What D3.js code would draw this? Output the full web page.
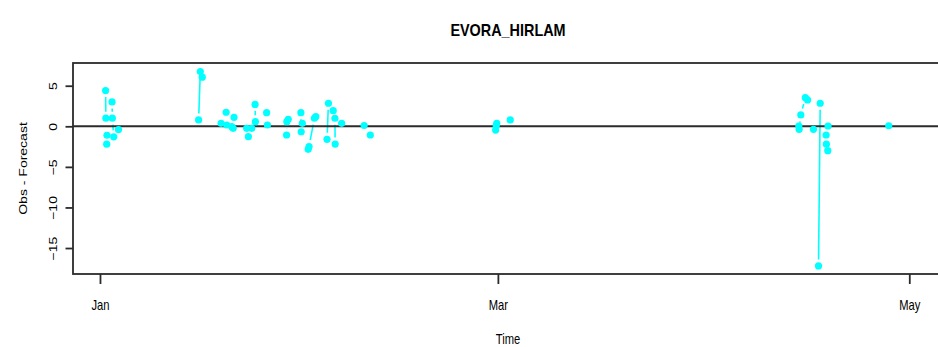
<!DOCTYPE html>
<html>
<head>
<meta charset="utf-8">
<script src="https://cdn.jsdelivr.net/npm/d3@7"></script>
<style>
  html, body { margin: 0; padding: 0; background: #fff; }
  svg { display: block; }
  text { font-family: "Liberation Sans", Arial, sans-serif; fill: #000; }
</style>
</head>
<body>
<svg id="chart" width="938" height="347"></svg>
<script>
// Observation time stamps (UTC); null entries break the connecting line.
const obsTimes = [
  "2013-01-01 20:00", "2013-01-01 21:00", null,
  "2013-01-02 00:00", null,
  "2013-01-02 01:00", null,
  "2013-01-02 19:00", "2013-01-02 20:00", "2013-01-03 01:00", null,
  "2013-01-03 18:00", null,
  "2013-01-15 15:00", "2013-01-15 21:00", "2013-01-16 04:00", null,
  "2013-01-18 23:00", null,
  "2013-01-19 17:00", "2013-01-19 19:00", null,
  "2013-01-20 13:00", "2013-01-20 18:00", "2013-01-20 21:00", null,
  "2013-01-22 18:00", "2013-01-23 00:00", null,
  "2013-01-23 12:00", null,
  "2013-01-24 00:00", "2013-01-24 01:00", null,
  "2013-01-25 17:00", "2013-01-25 20:00", null,
  "2013-01-28 16:00", "2013-01-28 17:00", "2013-01-28 22:00", null,
  "2013-01-30 19:00", "2013-01-30 20:00", "2013-01-31 00:00", null,
  "2013-01-31 21:00", "2013-02-01 00:00", "2013-02-01 19:00", "2013-02-02 00:00", null,
  "2013-02-03 16:00", "2013-02-03 21:00", null,
  "2013-02-04 14:00", "2013-02-04 20:00", "2013-02-04 21:00", null,
  "2013-02-05 20:00", null,
  "2013-02-09 04:00", null,
  "2013-02-10 02:00", null,
  "2013-02-28 16:00", "2013-02-28 18:00", "2013-02-28 20:00", null,
  "2013-03-02 20:00", null,
  "2013-04-14 15:00", "2013-04-14 16:00", "2013-04-14 22:00", "2013-04-15 14:00", "2013-04-15 22:00", null,
  "2013-04-16 19:00", null,
  "2013-04-17 13:00", "2013-04-17 19:00", null,
  "2013-04-18 16:00", "2013-04-18 17:00", "2013-04-18 22:00", null,
  "2013-04-18 23:00", null,
  "2013-04-27 23:00"
];

// Observed minus forecast values, aligned with obsTimes.
const obsMinusForecast = [
  4.4, 1.0, null,
  -2.2, null,
  -1.1, null,
  3.0, 1.0, -1.3, null,
  -0.4, null,
  0.78, 6.74, 6.05, null,
  0.37, null,
  1.73, 0.16, null,
  -0.05, -0.25, 1.1, null,
  -0.25, -1.28, null,
  -0.25, null,
  2.7, 0.57, null,
  1.68, 0.16, null,
  -1.07, 0.57, 0.86, null,
  1.68, -0.67, 0.37, null,
  -2.84, -2.5, 0.99, 1.19, null,
  -1.6, 2.84, null,
  1.93, 0.99, -2.19, null,
  0.37, null,
  0.1, null,
  -1.07, null,
  -0.46, 0.05, 0.37, null,
  0.78, null,
  0.04, -0.37, 1.4, 3.53, 3.25, null,
  -0.37, null,
  -17.2, 2.84, null,
  -1.07, -2.2, -3.0, null,
  0.04, null,
  0.07
];

const xTickDates = ["2013-01-01", "2013-03-01", "2013-05-01"];
const xTickLabels = ["Jan", "Mar", "May"];
const yTickValues = [5, 0, -5, -10, -15];
const xLimits = ["2012-12-28 00:00", "2013-05-06 00:00"];
const yLimits = [-18.2, 7.8];

const titleText = "EVORA_HIRLAM";
const xLabelText = "Time";
const yLabelText = "Obs - Forecast";

const parseTime = d3.utcParse("%Y-%m-%d %H:%M");
const parseDay = d3.utcParse("%Y-%m-%d");

const svg = d3.select("#chart");
const plot = { left: 73, top: 63, right: 943, bottom: 274 };

const x = d3.scaleUtc()
  .domain(xLimits.map(parseTime))
  .range([plot.left, plot.right]);
const y = d3.scaleLinear()
  .domain(yLimits)
  .range([plot.bottom, plot.top]);

const data = obsTimes.map((t, i) => ({
  t: t == null ? null : parseTime(t),
  v: obsMinusForecast[i]
}));

const cyan = "#00ffff";
const axisColor = "#2b2b2b";

// Connecting segments, trimmed near each point (plot type "b").
const gap = 6.5;
const segs = [];
for (let i = 1; i < data.length; i++) {
  const a = data[i - 1], b = data[i];
  if (a.v == null || b.v == null) continue;
  const x1 = x(a.t), y1 = y(a.v), x2 = x(b.t), y2 = y(b.v);
  const len = Math.hypot(x2 - x1, y2 - y1);
  if (len <= 2 * gap) continue;
  const ux = (x2 - x1) / len, uy = (y2 - y1) / len;
  segs.push([x1 + ux * gap, y1 + uy * gap, x2 - ux * gap, y2 - uy * gap]);
}

svg.append("clipPath").attr("id", "plotClip")
  .append("rect")
  .attr("x", plot.left).attr("y", plot.top)
  .attr("width", plot.right - plot.left).attr("height", plot.bottom - plot.top);

const g = svg.append("g").attr("clip-path", "url(#plotClip)");

g.selectAll("line.seg").data(segs).join("line")
  .attr("class", "seg")
  .attr("x1", d => d[0]).attr("y1", d => d[1])
  .attr("x2", d => d[2]).attr("y2", d => d[3])
  .attr("stroke", cyan).attr("stroke-width", 1.6);

// Zero reference line
g.append("line")
  .attr("x1", plot.left).attr("x2", plot.right)
  .attr("y1", y(0)).attr("y2", y(0))
  .attr("stroke", axisColor).attr("stroke-width", 2);

g.selectAll("circle.pt").data(data.filter(d => d.v != null)).join("circle")
  .attr("class", "pt")
  .attr("cx", d => x(d.t)).attr("cy", d => y(d.v))
  .attr("r", 3.6)
  .attr("fill", cyan);

// Plot frame
svg.append("rect")
  .attr("x", plot.left).attr("y", plot.top)
  .attr("width", plot.right - plot.left).attr("height", plot.bottom - plot.top)
  .attr("fill", "none").attr("stroke", axisColor).attr("stroke-width", 1.8);

// X axis
const xAxis = d3.axisBottom(x)
  .tickValues(xTickDates.map(parseDay))
  .tickFormat((d, i) => xTickLabels[i])
  .tickSize(10).tickSizeOuter(0).tickPadding(16);
const gx = svg.append("g").attr("transform", `translate(0,${plot.bottom})`).call(xAxis);
gx.select(".domain").remove();
gx.selectAll(".tick line").attr("stroke", axisColor).attr("stroke-width", 1.8);
gx.selectAll(".tick text")
  .attr("font-size", 14).attr("fill", "#000")
  .attr("transform", "scale(0.8,1)");

// Y axis with rotated tick labels
const yAxis = d3.axisLeft(y)
  .tickValues(yTickValues)
  .tickFormat(d3.format("d"))
  .tickSize(7.5).tickSizeOuter(0);
const gy = svg.append("g").attr("transform", `translate(${plot.left},0)`).call(yAxis);
gy.select(".domain").remove();
gy.selectAll(".tick line").attr("stroke", axisColor).attr("stroke-width", 1.8);
gy.selectAll(".tick text")
  .attr("font-size", 14).attr("fill", "#000")
  .attr("x", null).attr("dy", null)
  .attr("text-anchor", "middle")
  .attr("transform", "translate(-16,0) rotate(-90) scale(1,0.82)");

// Titles
const cx = (plot.left + plot.right) / 2;
svg.append("text")
  .attr("transform", `translate(${cx},36) scale(0.9,1)`)
  .attr("text-anchor", "middle")
  .attr("font-size", 16).attr("font-weight", "bold")
  .text(titleText);

svg.append("text")
  .attr("transform", `translate(${cx},344) scale(0.8,1)`)
  .attr("text-anchor", "middle")
  .attr("font-size", 14)
  .text(xLabelText);

svg.append("text")
  .attr("transform", `translate(27,${(plot.top + plot.bottom) / 2}) rotate(-90) scale(1,0.82)`)
  .attr("text-anchor", "middle")
  .attr("font-size", 14)
  .text(yLabelText);
</script>
</body>
</html>
